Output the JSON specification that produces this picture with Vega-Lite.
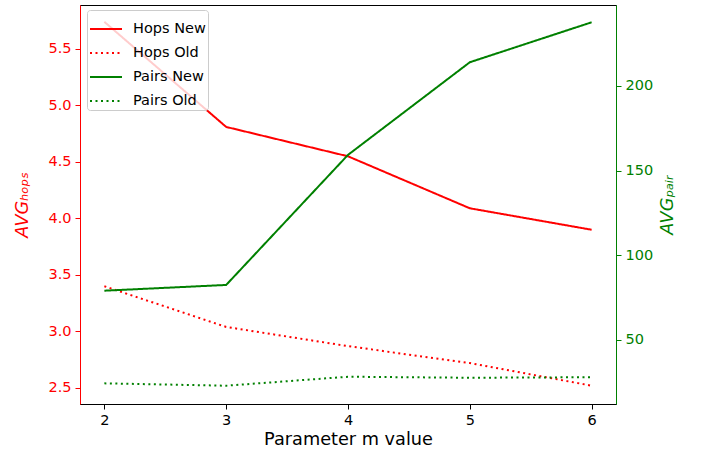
{
  "$schema": "https://vega.github.io/schema/vega-lite/v6.json",
  "width": 536,
  "height": 399,
  "autosize": {"type": "none"},
  "padding": {"left": 80, "top": 5, "right": 91, "bottom": 53},
  "background": "white",
  "config": {
    "font": "DejaVu Sans",
    "view": {"stroke": "black", "strokeWidth": 1},
    "axis": {"grid": false, "tickSize": 5, "labelPadding": 4, "labelFontSize": 14.5, "titleFontSize": 17.7, "titleFontWeight": "normal", "domainWidth": 1, "tickWidth": 1, "labelFont": "DejaVu Sans", "titleFont": "DejaVu Sans"}
  },
  "datasets": {
    "hops": [
      {"m": 2, "series": "Hops New", "value": 5.74},
      {"m": 3, "series": "Hops New", "value": 4.81},
      {"m": 4, "series": "Hops New", "value": 4.55},
      {"m": 5, "series": "Hops New", "value": 4.09},
      {"m": 6, "series": "Hops New", "value": 3.90},
      {"m": 2, "series": "Hops Old", "value": 3.40},
      {"m": 3, "series": "Hops Old", "value": 3.04},
      {"m": 4, "series": "Hops Old", "value": 2.87},
      {"m": 5, "series": "Hops Old", "value": 2.72},
      {"m": 6, "series": "Hops Old", "value": 2.52}
    ],
    "pairs": [
      {"m": 2, "series": "Pairs New", "value": 79.1},
      {"m": 3, "series": "Pairs New", "value": 82.5},
      {"m": 4, "series": "Pairs New", "value": 159.3},
      {"m": 5, "series": "Pairs New", "value": 214.0},
      {"m": 6, "series": "Pairs New", "value": 237.6},
      {"m": 2, "series": "Pairs Old", "value": 24.4},
      {"m": 3, "series": "Pairs Old", "value": 23.0},
      {"m": 4, "series": "Pairs Old", "value": 28.3},
      {"m": 5, "series": "Pairs Old", "value": 27.7},
      {"m": 6, "series": "Pairs Old", "value": 28.0}
    ]
  },
  "encoding": {
    "x": {
      "field": "m", "type": "quantitative",
      "scale": {"domain": [1.8, 6.2], "nice": false, "zero": false},
      "axis": {"values": [2, 3, 4, 5, 6], "format": "d", "title": "Parameter m value", "titlePadding": 4, "domainColor": "black", "tickColor": "black", "labelColor": "black", "titleColor": "black"}
    },
    "color": {
      "field": "series", "type": "nominal",
      "scale": {"domain": ["Hops New", "Hops Old", "Pairs New", "Pairs Old"], "range": ["#ff0000", "#ff0000", "#008000", "#008000"]},
      "legend": {
        "title": null, "orient": "none", "legendX": 7, "legendY": 5,
        "labelFont": "DejaVu Sans", "labelFontSize": 14.5, "labelColor": "#000000",
        "symbolType": "stroke", "symbolSize": 1024, "symbolStrokeWidth": 2,
        "rowPadding": -3.5, "labelOffset": 10, "padding": 2, "labelLimit": 300,
        "fillColor": "rgba(255,255,255,0.8)", "strokeColor": "#cccccc", "cornerRadius": 3
      }
    },
    "strokeDash": {
      "field": "series", "type": "nominal",
      "scale": {"domain": ["Hops New", "Hops Old", "Pairs New", "Pairs Old"], "range": [[1, 0], [2, 3.5], [1, 0], [2, 3.5]]},
      "legend": {
        "title": null, "orient": "none", "legendX": 7, "legendY": 5,
        "labelFont": "DejaVu Sans", "labelFontSize": 14.5, "labelColor": "#000000",
        "symbolType": "stroke", "symbolSize": 1024, "symbolStrokeWidth": 2,
        "rowPadding": -3.5, "labelOffset": 10, "padding": 2, "labelLimit": 300,
        "fillColor": "rgba(255,255,255,0.8)", "strokeColor": "#cccccc", "cornerRadius": 3
      }
    }
  },
  "layer": [
    {
      "data": {"name": "hops"},
      "mark": {"type": "line", "strokeWidth": 2, "strokeCap": "butt"},
      "encoding": {
        "y": {
          "field": "value", "type": "quantitative",
          "scale": {"domain": [2.358, 5.889], "nice": false, "zero": false},
          "axis": {"orient": "left", "values": [2.5, 3.0, 3.5, 4.0, 4.5, 5.0, 5.5], "format": ".1f", "title": "AVGₕₒₚₛ", "titleFontStyle": "italic", "titleColor": "#ff0000", "labelColor": "#ff0000", "tickColor": "#ff0000", "domainColor": "#ff0000", "titlePadding": 16}
        }
      }
    },
    {
      "data": {"name": "pairs"},
      "mark": {"type": "line", "strokeWidth": 2, "strokeCap": "butt"},
      "encoding": {
        "y": {
          "field": "value", "type": "quantitative",
          "scale": {"domain": [12.2, 247.8], "nice": false, "zero": false},
          "axis": {"orient": "right", "values": [50, 100, 150, 200], "title": "AVGₚₐᵢᵣ", "titleAngle": 270, "titleFontStyle": "italic", "titleColor": "#008000", "labelColor": "#008000", "tickColor": "#008000", "domainColor": "#008000", "titlePadding": 24}
        }
      }
    }
  ],
  "resolve": {"scale": {"y": "independent"}, "axis": {"y": "independent"}}
}
